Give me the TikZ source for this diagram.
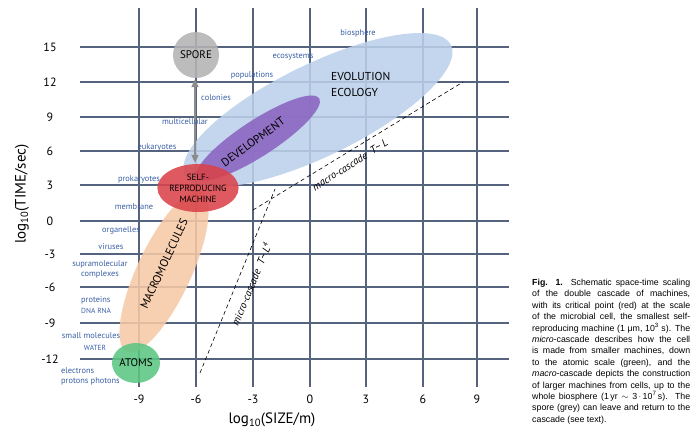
\documentclass[tikz,border=0pt]{standalone}
\usepackage{fontspec}
\setmainfont{Liberation Sans}
\newfontfamily\hand{PT Sans}
\newfontfamily\capfont{Liberation Sans}
\usetikzlibrary{shapes.geometric,arrows.meta}
\definecolor{gridc}{HTML}{56637F}
\definecolor{labc}{HTML}{3A5FA5}
\definecolor{evoc}{HTML}{BCD0EA}
\definecolor{devc}{HTML}{8A64C0}
\definecolor{macc}{HTML}{F6C9A6}
\definecolor{redc}{HTML}{D9434A}
\definecolor{grnc}{HTML}{5CC683}
\definecolor{sporec}{HTML}{B3B3B3}
\definecolor{arrc}{HTML}{8C8C8C}
\tikzset{
  gridline/.style={draw=gridc, line width=1.1pt},
  blob/.style={ellipse, inner sep=0pt, fill opacity=0.88, text opacity=1},
  lab/.style={text=labc, font=\hand\fontsize{8.4}{9.5}\selectfont, inner sep=0pt},
  biglab/.style={text=black, font=\hand\fontsize{11.5}{13.5}\selectfont, inner sep=0pt},
  tick/.style={font=\hand\fontsize{12}{14}\selectfont, inner sep=0pt},
  axtitle/.style={font=\hand\fontsize{15}{17}\selectfont, inner sep=0pt},
  cascade/.style={draw=black, line width=0.6pt, dash pattern=on 4pt off 3pt},
  cascadelab/.style={font=\hand\itshape\fontsize{10.5}{12}\selectfont, inner sep=0pt}
}
\begin{document}
\begin{tikzpicture}[x=1pt,y=-1pt]
\useasboundingbox (0,0) rectangle (698,444);
% grid
\foreach \gx in {139,196,253,310,366,423,477} \draw[gridline] (\gx,8) -- (\gx,387);
\foreach \gy in {47,82,117,151,185,221,254,287,323,359} \draw[gridline] (80,\gy) -- (509,\gy);
% ticks
\foreach \gy/\t in {47/15,82/12,117/9,151/6,185/3,221/0,254/-3,287/-6,323/-9,359/-12}
  \node[tick] (ty\t) at (50,\gy) {\t};
\foreach \gx/\t in {139/-9,196/-6,253/-3,310/0,366/3,423/6,477/9}
  \node[tick] (tx\t) at (\gx,399) {\t};
\node[axtitle] (xtitle) at (272,420) {log\textsubscript{10}(SIZE/m)};
\node[axtitle, rotate=90] (ytitle) at (22,194) {log\textsubscript{10}(TIME/sec)};
% blobs
\node[blob, fill=evoc, rotate=26, minimum width=296pt, minimum height=92pt] (evo) at (318,110) {};
\node[blob, fill=devc, rotate=33, minimum width=146pt, minimum height=36pt] (dev) at (258,138) {};
\node[blob, fill=macc, rotate=65, minimum width=176pt, minimum height=54pt] (mac) at (164,272) {};
\node[blob, fill=redc, minimum width=72pt, minimum height=48pt, align=center,
      font=\hand\fontsize{9}{11}\selectfont] (machine) at (198,188) {SELF-\\REPRODUCING\\MACHINE};
\node[blob, fill=grnc, minimum width=48pt, minimum height=40pt, font=\hand\fontsize{11}{13}\selectfont] (atoms) at (136,363) {ATOMS};
\node[blob, circle, fill=sporec, minimum size=46pt, font=\hand\fontsize{11}{13}\selectfont] (spore) at (196,55) {SPORE};
% arrow
\draw[draw=arrc, line width=2.5pt, {Triangle[width=7pt,length=8pt]}-{Triangle[width=7pt,length=8pt]}]
  ([yshift=-1pt]spore.south -| 195,0) -- ([yshift=1pt]machine.north -| 195,0);
% big labels
\node[biglab, rotate=36] (devlab) at (253,142) {DEVELOPMENT};
\node[biglab, rotate=65] (maclab) at (164,264) {MACROMOLECULES};
\node[biglab, anchor=west] (evolab) at (331,76) {EVOLUTION};
\node[biglab, anchor=west] (ecolab) at (331,92) {ECOLOGY};
% cascades
\coordinate (macA) at (253,210);
\coordinate (macB) at (463,82);
\coordinate (micA) at (200,373);
\coordinate (micB) at (275,189);
\draw[cascade] (macA) -- (macB);
\draw[cascade] (micA) -- (micB);
\node[cascadelab, rotate=32] (maclabel) at (350,165) {macro-cascade\ \ T\textasciitilde\ L};
\node[cascadelab, rotate=67.5] (miclabel) at (251,284) {micro-cascade\ \ T\textasciitilde\ L\textsuperscript{4}};
% blue labels
\node[lab] (l1) at (358,33) {biosphere};
\node[lab] (l2) at (293,57) {ecosystems};
\node[lab] (l3) at (252,75) {populations};
\node[lab] (l4) at (216,98) {colonies};
\node[lab] (l5) at (185,122) {multicellular};
\node[lab] (l6) at (157,147) {eukaryotes};
\node[lab] (l7) at (139,179) {prokaryotes};
\node[lab] (l8) at (134,207) {membrane};
\node[lab] (l9) at (121,230) {organelles};
\node[lab] (l10) at (111,247) {viruses};
\node[lab, align=center] (l11) at (100,269.5) {supramolecular\\complexes};
\node[lab, anchor=west] (l12) at (81,300) {proteins};
\node[lab, anchor=west, font=\hand\fontsize{7.4}{8}\selectfont] (l13) at (81,311) {DNA RNA};
\node[lab] (l14) at (91,336) {small molecules};
\node[lab, font=\hand\fontsize{7.4}{8}\selectfont] (l15) at (95,348) {WATER};
\node[lab, anchor=west] (l16) at (61,371) {electrons};
\node[lab, anchor=west] (l17) at (61,381) {protons photons};
% caption
\node[anchor=north west, inner sep=0pt, text width=158pt, align=justify,
      font=\capfont\fontsize{8.8}{11.4}\selectfont] (caption) at (532,279) {%
\textbf{Fig. 1.}\ \ Schematic space-time scaling\linebreak
of the double cascade of machines,\linebreak
with its critical point (red) at the scale\linebreak
of the microbial cell, the smallest self-\linebreak
reproducing machine (1 μm, 10\textsuperscript{3} s). The\linebreak
\textit{micro}-cascade describes how the cell\linebreak
is made from smaller machines, down\linebreak
to the atomic scale (green), and the\linebreak
\textit{macro}-cascade depicts the construction\linebreak
of larger machines from cells, up to the\linebreak
whole biosphere (1\,yr $\sim$ 3\,$\cdot$\,10\textsuperscript{7}\,s).\ \ The\linebreak
spore (grey) can leave and return to the\linebreak
cascade (see text).};
\end{tikzpicture}
\end{document}
